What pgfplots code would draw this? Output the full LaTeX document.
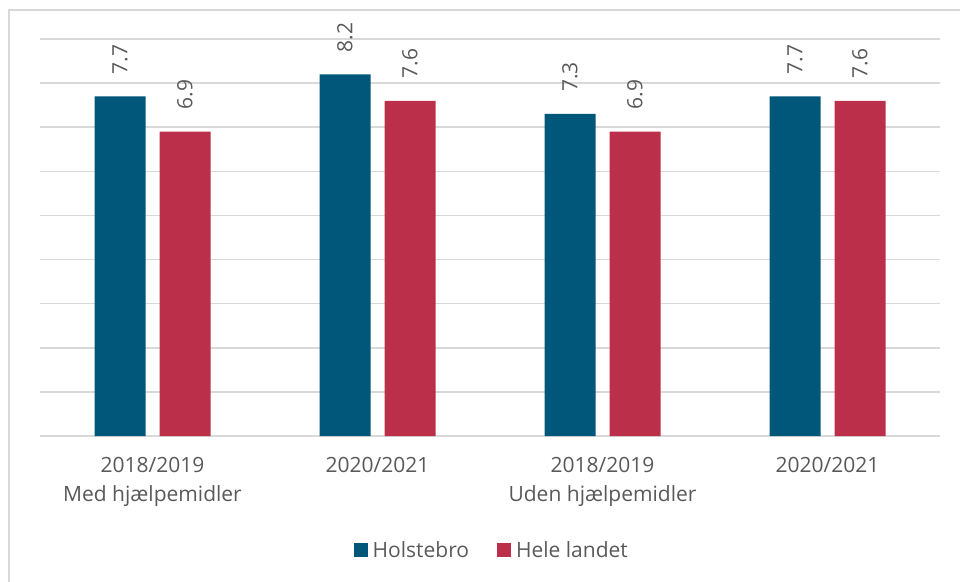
\documentclass[border=0pt]{standalone}
\usepackage{fontspec}
\setmainfont{Open Sans}
\usepackage{pgfplots}
\pgfplotsset{compat=1.18}
\definecolor{cblue}{RGB}{0,87,122}
\definecolor{cred}{RGB}{188,47,74}
\definecolor{cgrid}{RGB}{217,217,217}
\definecolor{ctext}{RGB}{89,89,89}
\begin{document}
\begin{tikzpicture}
\begin{axis}[
  scale only axis, width=900pt, height=397pt,
  xmin=-0.5, xmax=3.5, ymin=0, ymax=9,
  ybar=14pt, bar width=51pt,
  axis line style={draw=none},
  ytick={0,1,...,9}, yticklabels={},
  ymajorgrids, grid style={cgrid, line width=1.5pt},
  xtick=data,
  xticklabels={{2018/2019\\Med hjælpemidler},{2020/2021},{2018/2019\\Uden hjælpemidler},{2020/2021}},
  major tick length=0pt,
  xticklabel style={align=center, font=\fontsize{21}{29}\selectfont, text=ctext, inner sep=0pt, yshift=-21pt},
  nodes near coords={\pgfmathprintnumber[fixed,fixed zerofill,precision=1,assume math mode=true]{\pgfplotspointmeta}},
  nodes near coords style={rotate=90, anchor=west, inner sep=0pt, font=\fontsize{21}{24}\selectfont, text=ctext, xshift=22pt},
  legend style={at={(0.502,-0.287)}, anchor=center, draw=none, fill=none,
    font=\fontsize{21}{24}\selectfont, text=ctext,
    /tikz/every even column/.append style={column sep=26pt}},
  legend columns=2,
  legend image code/.code={\fill[#1] (0pt,-7pt) rectangle (14pt,7pt); \path (17pt,0pt);},
]
\addplot[fill=cblue, draw=none] coordinates {(0,7.7) (1,8.2) (2,7.3) (3,7.7)};
\addplot[fill=cred, draw=none] coordinates {(0,6.9) (1,7.6) (2,6.9) (3,7.6)};
\legend{Holstebro, Hele landet}
\end{axis}
\draw[cgrid, line width=1.5pt] (-31pt,-200pt) -- (-31pt,426pt) -- (1000pt,426pt);
\pgfresetboundingbox
\useasboundingbox (-40pt,-145pt) rectangle (920pt,436pt);
\end{tikzpicture}
\end{document}
